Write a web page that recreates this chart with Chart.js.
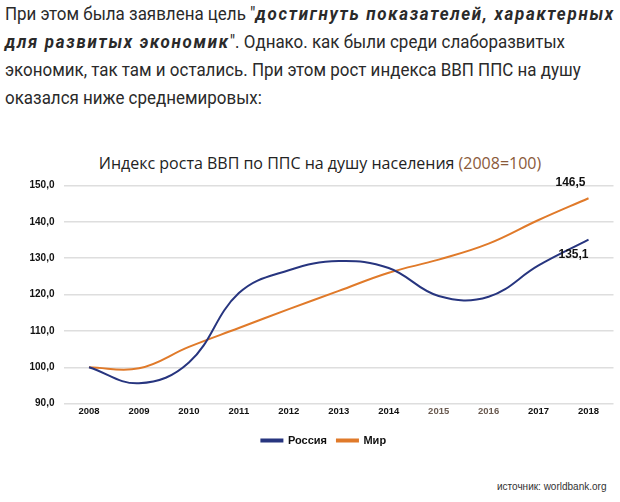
<!DOCTYPE html>
<html><head><meta charset="utf-8">
<script src="https://cdn.jsdelivr.net/npm/chart.js@4.4.1/dist/chart.umd.min.js"></script>
<style>
html,body{margin:0;padding:0;background:#fff;width:620px;height:502px;overflow:hidden;}
#para{position:absolute;left:5px;top:0px;width:700px;white-space:nowrap;font-family:Roboto,sans-serif;font-size:18.5px;line-height:28px;color:#2a2a2a;transform:scaleX(0.916);transform-origin:0 0;}
#para b{letter-spacing:1.85px;}
#title{position:absolute;left:0;top:152px;width:640px;text-align:center;font-family:"Open Sans",sans-serif;font-size:16px;color:#222;}
#title span{color:#8a5a3a;}
#src{position:absolute;left:497px;top:481px;font-family:"Liberation Sans",sans-serif;font-size:10px;color:#333;}
#wrap{position:absolute;left:0;top:170px;width:620px;height:286px;}
</style></head><body>
<div id="para">При этом была заявлена цель "<b><i>достигнуть показателей, характерных</i></b><br><b><i>для развитых экономик</i></b>". Однако. как были среди слаборазвитых<br>экономик, так там и остались. При этом рост индекса ВВП ППС на душу<br>оказался ниже среднемировых:</div>
<div id="title">Индекс роста ВВП по ППС на душу населения <span>(2008=100)</span></div>
<div id="wrap"><canvas id="c" width="620" height="286"></canvas></div>
<div id="src">источник: worldbank.org</div>
<script>
const years = ["2008","2009","2010","2011","2012","2013","2014","2015","2016","2017","2018"];
const russia = [100, 95.6, 101.3, 120.4, 126.7, 129.2, 127.3, 119.6, 119.4, 128.0, 135.1];
const world = [100, 99.7, 105.6, 110.8, 116.0, 121.0, 126.0, 129.6, 134.0, 140.5, 146.5];
const yTicks = [90,100,110,120,130,140,150];
const FONT = '"Liberation Sans", Arial, sans-serif';

const endLabels = {
  id:'endLabels',
  afterDatasetsDraw(chart){
    const ctx = chart.ctx;
    ctx.save();
    ctx.font = 'bold 12px ' + FONT;
    ctx.fillStyle = '#111';
    ctx.textAlign = 'center';
    ctx.textBaseline = 'middle';
    const m1 = chart.getDatasetMeta(1).data[world.length-1];
    ctx.fillText(world[world.length-1].toFixed(1).replace('.',','), m1.x-18, m1.y-16);
    const m0 = chart.getDatasetMeta(0).data[russia.length-1];
    ctx.fillText(russia[russia.length-1].toFixed(1).replace('.',','), m0.x-15, m0.y+15);
    ctx.restore();
  }
};
const shiftLegend = {
  id:'shiftLegend',
  afterLayout(chart){ if(chart.legend){ chart.legend.left += 7; chart.legend.right += 7; } }
};

new Chart(document.getElementById('c'), {
  type:'line',
  data:{labels:years, datasets:[
    {label:'Россия', data:russia, borderColor:'#27357f', backgroundColor:'#27357f', borderWidth:2, tension:0.4, pointRadius:0, fill:false},
    {label:'Мир', data:world, borderColor:'#e07a2a', backgroundColor:'#e07a2a', borderWidth:2, tension:0.4, pointRadius:0, fill:false}
  ]},
  options:{
    responsive:false, animation:false,
    layout:{padding:{left:20,right:6.5,top:12,bottom:0}},
    plugins:{
      legend:{position:'bottom', labels:{boxWidth:21, boxHeight:2, font:{family:FONT, size:11, weight:'bold'}, color:'#111', padding:10}},
      tooltip:{enabled:false}
    },
    scales:{
      x:{offset:true, grid:{display:false, drawTicks:false}, border:{display:false}, afterFit(ax){ ax.height += 6; },
         ticks:{color:(c)=> (c.index===7||c.index===8)?'#6a5a50':'#111', font:{family:FONT, size:9.5, weight:'bold'}, padding:2}},
      y:{min:90, max:150, afterBuildTicks(ax){ax.ticks = yTicks.map(v=>({value:v}));}, grid:{color:'#dedede', lineWidth:1.5, drawTicks:false}, border:{display:false},
         ticks:{color:'#111', font:{family:FONT, size:10, weight:'bold'}, padding:9.5, callback:(v)=>v.toFixed(1).replace('.',',')}}
    }
  },
  plugins:[endLabels, shiftLegend]
});
</script>
</body></html>
